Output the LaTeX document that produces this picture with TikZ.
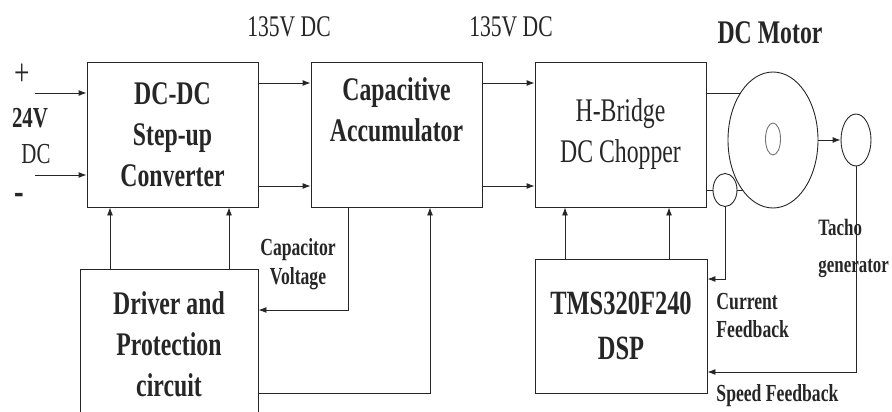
\documentclass[tikz,border=0pt]{standalone}
\usepackage{fontspec}
\setmainfont{Liberation Serif}[FakeStretch=0.72]
\usetikzlibrary{arrows.meta,shapes.geometric}

\begin{document}
\begin{tikzpicture}[x=1pt,y=-1pt,line width=0.9pt,color=black!85,
    box/.style={draw,minimum width=171pt,minimum height=145pt,align=center,inner sep=0pt,font=\fontsize{33}{41}\selectfont},
    arr/.style={-{Latex[length=8pt,width=6pt]}},
    oval/.style={draw,ellipse,inner sep=0pt},
    lbl/.style={font=\fontsize{24.5}{28}\selectfont\bfseries,align=left,inner sep=0pt}]
    \useasboundingbox (0,0) rectangle (892,412);
    % blocks
    \node[box] (dcdc) at (172.5,134.5) {\bfseries DC-DC\\\bfseries Step-up\\\bfseries Converter};
    \node[box] (cap) at (396.5,134.5) {\bfseries Capacitive\\\bfseries Accumulator\\[8pt]};
    \node[box] (hb) at (620.5,134.5) {H-Bridge\\DC Chopper};
    \node[box,minimum width=178pt,minimum height=150pt] (drv) at (169,344) {\bfseries Driver and\\\bfseries Protection\\\bfseries circuit};
    \node[box,minimum width=172pt,minimum height=134pt,font=\fontsize{34}{45}\selectfont] (dsp) at (621,326) {\bfseries TMS320F240\\\bfseries DSP};
    % motor and sensors
    \node[oval,minimum width=90pt,minimum height=136pt] (motor) at (773,140) {};
    \node[oval,minimum width=15pt,minimum height=32pt,draw=black!55] (rotor) at (773,139) {};
    \node[oval,minimum width=30pt,minimum height=52pt] (tacho) at (856,140) {};
    \node[oval,minimum width=24pt,minimum height=33pt] (sensor) at (725,190) {};
    % levels
    \coordinate (hi) at (0,83);
    \coordinate (lo) at (0,186);
    \coordinate (pos) at (35,93);
    \coordinate (neg) at (35,175);
    \coordinate (mtop) at (741,93);
    \coordinate (mbot) at (743,190);
    \coordinate (ifb) at (0,279);
    \coordinate (sfb) at (0,372);
    \coordinate (cv) at (348,310);
    \coordinate (dout) at (430,393);
    % power path
    \draw[arr] (pos) -- (dcdc.west |- pos);
    \draw[arr] (neg) -- (dcdc.west |- neg);
    \foreach \a/\b in {dcdc/cap,cap/hb}{
        \draw[arr] (\a.east |- hi) -- (\b.west |- hi);
        \draw[arr] (\a.east |- lo) -- (\b.west |- lo);
    }
    \draw (hb.east |- mtop) -- (mtop);
    \draw (hb.east |- sensor.west) -- (sensor.west);
    \draw (sensor.east) -- (mbot);
    \draw[arr] (motor.east) -- (tacho.west);
    % control
    \foreach \x in {110,229}
        \draw[arr] (drv.north -| \x,0) -- (dcdc.south -| \x,0);
    \foreach \x in {565,669}
        \draw[arr] (dsp.north -| \x,0) -- (hb.south -| \x,0);
    \draw[arr] (cap.south -| cv) |- (drv.east |- cv);
    \draw[arr] (drv.east |- dout) -| (cap.south -| dout);
    \draw[arr] (sensor.south) |- (dsp.east |- ifb);
    \draw[arr] (tacho.south) |- (dsp.east |- sfb);
    % labels
    \node[font=\fontsize{30}{30}\selectfont] (v1) at (289,27) {135V DC};
    \node[font=\fontsize{30}{30}\selectfont] (v2) at (511,27) {135V DC};
    \node[font=\fontsize{33}{30}\selectfont\bfseries] (mname) at (770,33) {DC Motor};
    \node[font=\fontsize{38}{30}\selectfont] (plus) at (22,75) {+};
    \node[font=\fontsize{29}{30}\selectfont\bfseries] (vin) at (30,118) {24V};
    \node[font=\fontsize{29}{30}\selectfont] (dcin) at (36,154) {DC};
    \node[font=\fontsize{40}{30}\selectfont\bfseries] (minus) at (19,199) {-};
    \node[lbl,align=center,font=\fontsize{24.5}{29}\selectfont\bfseries] (capv) at (298,264) {Capacitor\\Voltage};
    \node[lbl,anchor=west,font=\fontsize{23.5}{37}\selectfont\bfseries] (tg) at (818,248) {Tacho\\generator};
    \node[lbl,anchor=west] (cf) at (716,316) {Current\\Feedback};
    \node[lbl,anchor=west] (sf) at (716,396) {Speed Feedback};
\end{tikzpicture}
\end{document}
